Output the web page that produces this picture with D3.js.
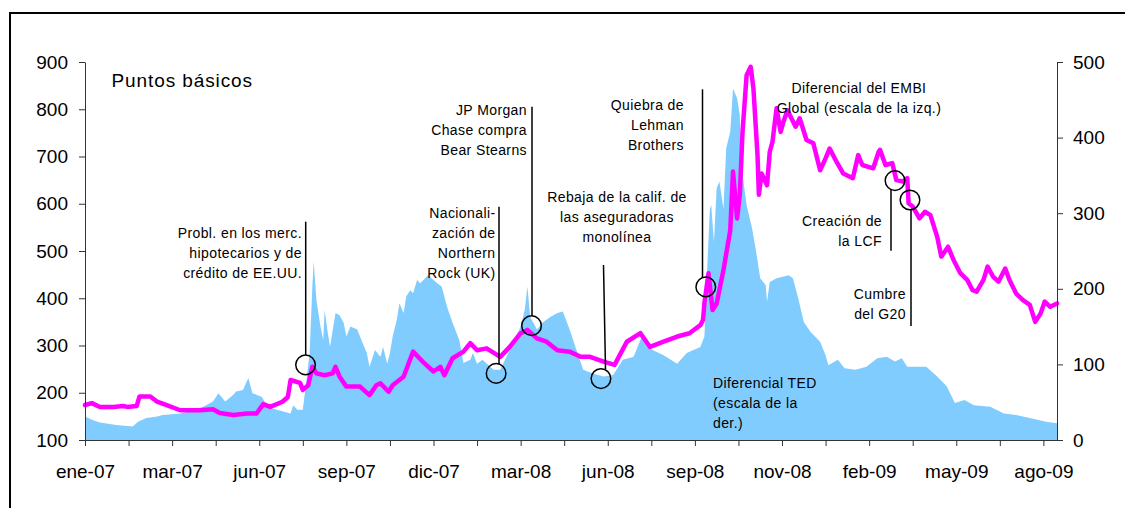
<!DOCTYPE html>
<html><head><meta charset="utf-8">
<script src="https://cdn.jsdelivr.net/npm/d3@7"></script>
<style>
body{margin:0;background:#fff}
text{font-family:"Liberation Sans",Arial,sans-serif;fill:#000}
</style>
</head><body>
<svg id="chart" width="1125" height="508"></svg>
<script>
// ---- data ----
const xTickLabels = ["ene-07","mar-07","jun-07","sep-07","dic-07","mar-08","jun-08","sep-08","nov-08","feb-09","may-09","ago-09"];
const leftTicks = [100,200,300,400,500,600,700,800,900];
const rightTicks = [0,100,200,300,400,500];

// EMBI Global spread (left scale), x = business-day index
const embiDays = [0,5,11,21,28,31,38,40,48,53,60,70,84,94,99,109,119,126,131,136,145,149,151,158,160,164,167,170,176,182,184,187,192,202,209,214,217,223,226,234,241,248,256,261,264,270,278,283,288,295,305,312,320,325,332,339,347,356,364,371,381,389,398,408,415,425,435,444,452,454,455,458,461,464,469,474,476,479,481,483,486,489,491,494,495,497,501,503,505,508,511,513,516,522,525,530,535,540,544,547,552,557,564,568,571,579,583,584,588,593,596,601,604,605,608,613,617,621,626,629,634,638,643,648,652,655,660,663,667,671,676,679,684,689,694,698,702,705,709,714];
const embiValues = [174,178,170,170,172,170,172,192,192,181,174,163,163,165,157,153,156,156,176,170,181,191,227,221,206,216,255,241,237,241,255,234,213,213,195,216,220,202,216,234,287,266,245,255,237,273,287,305,290,294,276,297,326,333,315,308,290,287,276,276,266,259,308,326,297,308,319,326,343,354,390,453,375,389,460,544,668,569,619,752,872,890,844,703,619,664,639,710,731,802,752,773,798,763,781,735,728,671,696,717,689,664,654,703,682,675,710,714,682,686,650,647,654,601,594,569,583,576,530,488,509,481,453,439,417,414,439,467,446,435,463,439,410,396,386,350,368,393,382,389];

// TED spread (right scale)
const tedDays = [0,6,11,23,35,39,45,53,57,70,82,89,94,98,103,109,111,116,120,123,130,134,141,151,153,156,160,163,165,167,168,170,173,175,176,178,180,184,187,190,192,195,200,204,207,209,213,217,219,222,224,226,229,231,234,236,239,241,244,246,252,259,262,266,270,275,278,283,285,288,292,300,305,312,320,323,325,327,332,336,342,347,351,356,361,366,373,381,388,395,403,409,413,417,425,435,442,452,455,457,459,460,462,464,466,469,471,474,476,479,481,482,486,490,493,496,500,501,503,508,517,520,524,528,533,540,544,546,553,558,566,574,582,589,595,600,604,618,626,633,639,646,653,665,675,684,694,706,714];
const tedValues = [31,26,23,20,18,24,29,31,33,35,40,46,51,62,51,60,64,66,82,62,57,44,40,35,46,40,40,84,115,203,236,185,150,132,172,146,123,168,165,155,137,150,146,128,115,97,119,110,123,101,115,137,159,181,168,190,198,194,212,207,218,207,203,176,155,132,102,106,115,101,106,93,93,119,150,172,203,163,146,155,163,168,170,146,119,93,88,84,86,106,110,137,123,119,112,101,115,123,137,223,306,311,262,333,342,306,386,408,465,452,430,364,311,280,249,214,205,183,209,214,218,214,187,156,143,130,112,99,106,95,93,97,108,110,104,108,97,97,84,71,49,53,46,44,35,33,29,24,22];

// event markers: [day index, EMBI value]
const eventDays = [162,302,328,379,456,595,606];
const eventValues = [259,241,342,230,424,649,608];

// ---- chart ----
const svg = d3.select("#chart");
const x = d3.scaleLinear().domain([0,714]).range([85,1057]);
const yL = d3.scaleLinear().domain([100,900]).range([440,62]);
const yR = d3.scaleLinear().domain([0,500]).range([440,62]);

// frame
svg.append("rect").attr("x",10).attr("y",13).attr("width",1300).attr("height",700)
  .attr("fill","none").attr("stroke","#000").attr("stroke-width",2);

const ted = tedDays.map((d,i)=>({d, v:tedValues[i]}));
const embi = embiDays.map((d,i)=>({d, v:embiValues[i]}));

svg.append("path").datum(ted)
  .attr("fill","#80CCFF")
  .attr("d", d3.area().x(p=>x(p.d)).y0(yR(0)).y1(p=>yR(p.v)));

svg.append("path").datum(embi)
  .attr("fill","none").attr("stroke","#FF00FF").attr("stroke-width",4.5)
  .attr("stroke-linejoin","round").attr("stroke-linecap","round")
  .attr("d", d3.line().x(p=>x(p.d)).y(p=>yL(p.v)));

// axes
const axColor = "#333";
const gx = svg.append("g").attr("transform","translate(0,440)")
  .call(d3.axisBottom(x).tickValues(d3.range(0,705,32)).tickSize(6).tickSizeOuter(0).tickPadding(19)
    .tickFormat(d => d%64===0 ? xTickLabels[d/64] : ""));
const gl = svg.append("g").attr("transform","translate(85,0)")
  .call(d3.axisLeft(yL).tickValues(leftTicks).tickSize(6).tickSizeOuter(0).tickPadding(11));
const gr = svg.append("g").attr("transform","translate(1057,0)")
  .call(d3.axisRight(yR).tickValues(rightTicks).tickSize(6).tickSizeOuter(0).tickPadding(10));
[gx,gl,gr].forEach(g=>{
  g.selectAll("path,line").attr("stroke",axColor);
  g.selectAll("text").style("font-size","19px").style("font-family","'Liberation Sans',Arial,sans-serif").attr("fill","#000");
});

svg.append("text").attr("x",111.5).attr("y",87).style("font-size","19px").style("letter-spacing","0.9px")
  .text("Puntos básicos");

// annotations
const notes = [
  {lines:["Probl. en los merc.","hipotecarios y de","crédito de EE.UU."], x:302, y:237.5, a:"end"},
  {lines:["Nacionali-","zación de","Northern","Rock (UK)"], x:495.5, y:218, a:"end"},
  {lines:["JP Morgan","Chase compra","Bear Stearns"], x:527, y:114.5, a:"end"},
  {lines:["Rebaja de la calif. de","las aseguradoras","monolínea"], x:617, y:201.5, a:"middle"},
  {lines:["Quiebra de","Lehman","Brothers"], x:684, y:109.5, a:"end"},
  {lines:["Diferencial del EMBI","Global (escala de la izq.)"], x:859, y:92.5, a:"middle"},
  {lines:["Creación de","la LCF"], x:882, y:225.5, a:"end"},
  {lines:["Cumbre","del G20"], x:906, y:298.5, a:"end"},
  {lines:["Diferencial TED","(escala de la","der.)"], x:713, y:388, a:"start"}
];
notes.forEach(n=>{
  const t = svg.append("text").attr("text-anchor",n.a).style("font-size","14px").style("letter-spacing","0.4px");
  n.lines.forEach((l,i)=>t.append("tspan").attr("x",n.x).attr("y",n.y+i*20).text(l));
});

const leaders = [
  [305.7,221.7,305.7,355],
  [499,206.7,499,364],
  [532,106.7,532,316],
  [603.5,265,605.5,369],
  [702.5,89.3,702.5,277],
  [891,189,891,250.7],
  [911,209.5,911,326]
];
leaders.forEach(l=>svg.append("line").attr("x1",l[0]).attr("y1",l[1]).attr("x2",l[2]).attr("y2",l[3])
  .attr("stroke","#000").attr("stroke-width",1.5));

svg.selectAll("circle.ev").data(eventDays.map((d,i)=>({d,v:eventValues[i]}))).enter()
  .append("circle").attr("class","ev")
  .attr("cx",p=>x(p.d)).attr("cy",p=>yL(p.v)).attr("r",9.8)
  .attr("fill","none").attr("stroke","#000").attr("stroke-width",1.5);
</script>
</body></html>
